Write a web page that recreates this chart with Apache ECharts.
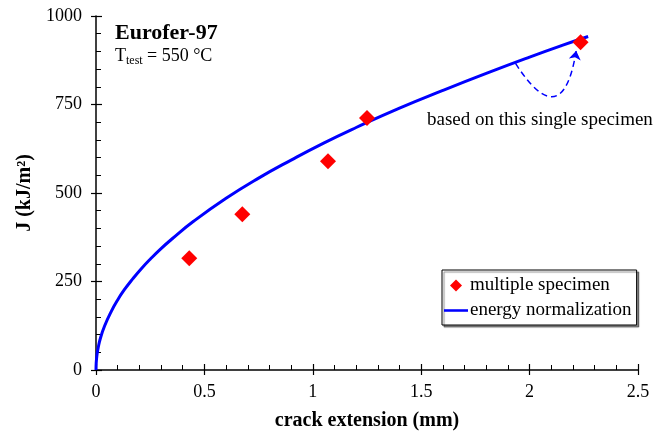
<!DOCTYPE html>
<html>
<head>
<meta charset="utf-8">
<script src="https://cdn.jsdelivr.net/npm/echarts@6/dist/echarts.min.js"></script>
<style>
  html, body { margin: 0; padding: 0; background: #fff; }
  #chart { width: 670px; height: 432px; }
</style>
</head>
<body>
<div id="chart"></div>
<script>
// measured specimens (crack extension mm, J kJ/m2)
const specimenX = [0.43, 0.675, 1.07, 1.25, 2.235];
const specimenJ = [316, 440, 590, 712, 926];

// energy normalization curve
const curveX = [0, 0.001, 0.005, 0.01, 0.02, 0.04, 0.07, 0.1, 0.13, 0.17, 0.21, 0.25, 0.3, 0.35, 0.45,
  0.6, 0.75, 0.9, 1.05, 1.2, 1.4, 1.6, 1.8, 2.0, 2.15, 2.27];
const curveJ = [0, 20, 45, 63, 89, 125, 165, 198, 226, 258, 287, 313, 343, 370, 420,
  485, 542, 593, 641, 685, 740, 790, 838, 884, 917, 942];

// dashed arrow from the curve to the single specimen
const arrowFrom = [1.935, 866];
const arrowTo = [2.215, 902];

const xTicks = [0, 2.5, 0.5];   // min, max, interval
const yTicks = [0, 1000, 250];

const serif = 'Liberation Serif';

const chart = echarts.init(document.getElementById('chart'));

const axisBase = {
  type: 'value',
  splitLine: { show: false },
  axisLine: { show: true, onZero: false, lineStyle: { color: '#000', width: 1.5 } }
};

chart.setOption({
  animation: false,
  grid: { left: 96, top: 16, width: 542, height: 354, outerBoundsMode: 'none', containLabel: false },
  xAxis: [
    Object.assign({}, axisBase, {
      min: xTicks[0], max: xTicks[1], interval: xTicks[2],
      name: 'crack extension (mm)',
      nameLocation: 'middle',
      nameGap: 41,
      nameTextStyle: { fontFamily: serif, fontWeight: 'bold', fontSize: 20, color: '#000' },
      axisTick: { show: true, inside: true, length: 6, lineStyle: { color: '#000', width: 1.2 } },
      minorTick: { show: true, splitNumber: 5, length: 5, lineStyle: { color: '#000', width: 1 } },
      axisLabel: { fontFamily: serif, fontSize: 18, color: '#000', margin: 13 }
    }),
    Object.assign({}, axisBase, {
      min: xTicks[0], max: xTicks[1], interval: xTicks[2],
      position: 'bottom',
      axisLine: { show: false },
      axisTick: { show: true, inside: false, length: 5, lineStyle: { color: '#000', width: 1.2 } },
      axisLabel: { show: false }
    })
  ],
  yAxis: [
    Object.assign({}, axisBase, {
      min: yTicks[0], max: yTicks[1], interval: yTicks[2],
      name: 'J (kJ/m²)',
      nameLocation: 'middle',
      nameGap: 51,
      nameTextStyle: { fontFamily: serif, fontWeight: 'bold', fontSize: 20, color: '#000' },
      axisTick: { show: true, inside: true, length: 6, lineStyle: { color: '#000', width: 1.2 } },
      minorTick: { show: true, splitNumber: 5, length: 5, lineStyle: { color: '#000', width: 1 } },
      axisLabel: { fontFamily: serif, fontSize: 18, color: '#000', margin: 14, formatter: v => String(v) }
    }),
    Object.assign({}, axisBase, {
      min: yTicks[0], max: yTicks[1], interval: yTicks[2],
      position: 'left',
      axisLine: { show: false },
      axisTick: { show: true, inside: false, length: 5, lineStyle: { color: '#000', width: 1.2 } },
      axisLabel: { show: false }
    })
  ],
  legend: {
    orient: 'vertical',
    left: 442, top: 270,
    padding: [6, 5, 5, 2],
    itemGap: 6,
    itemWidth: 24, itemHeight: 12,
    symbolKeepAspect: true,
    borderColor: '#000', borderWidth: 1,
    backgroundColor: '#fff',
    shadowColor: 'rgba(0,0,0,0.45)', shadowBlur: 1, shadowOffsetX: 2, shadowOffsetY: 2,
    textStyle: { fontFamily: serif, fontSize: 19, color: '#000', padding: [0, 0, 0, -3] },
    data: [
      { name: 'multiple specimen', icon: 'path://M5,0L10,5L5,10L0,5Z' },
      { name: 'energy normalization', icon: 'path://M0,0H30V3.2H0Z' }
    ]
  },
  graphic: [
    { type: 'text', left: 115, top: 22, style: { text: 'Eurofer-97', font: 'bold 22px "Liberation Serif"', fill: '#000' } },
    { type: 'text', left: 115, top: 47, style: { text: 'T', font: '18px "Liberation Serif"', fill: '#000' } },
    { type: 'text', left: 126, top: 55, style: { text: 'test', font: '12px "Liberation Serif"', fill: '#000' } },
    { type: 'text', left: 147, top: 47, style: { text: '= 550 °C', font: '18px "Liberation Serif"', fill: '#000' } },
    { type: 'text', left: 427, top: 111, style: { text: 'based on this single specimen', font: '19px "Liberation Serif"', fill: '#000' } }
  ],
  series: [
    {
      name: 'energy normalization',
      type: 'line',
      smooth: 0.5,
      symbol: 'none',
      lineStyle: { color: '#0000ff', width: 3 },
      itemStyle: { color: '#0000ff' },
      z: 2,
      data: curveX.map((x, i) => [x, curveJ[i]])
    },
    {
      name: 'multiple specimen',
      type: 'scatter',
      symbol: 'diamond',
      symbolSize: 16,
      itemStyle: { color: '#ff0000', opacity: 1 },
      z: 4,
      data: specimenX.map((x, i) => [x, specimenJ[i]])
    },
    {
      type: 'lines',
      coordinateSystem: 'cartesian2d',
      symbol: ['none', 'arrow'],
      symbolSize: 9,
      lineStyle: { color: '#0000ff', width: 1.5, type: [6, 4], curveness: -1.3, opacity: 1 },
      z: 3,
      data: [{ coords: [arrowFrom, arrowTo] }]
    }
  ]
});
</script>
</body>
</html>
